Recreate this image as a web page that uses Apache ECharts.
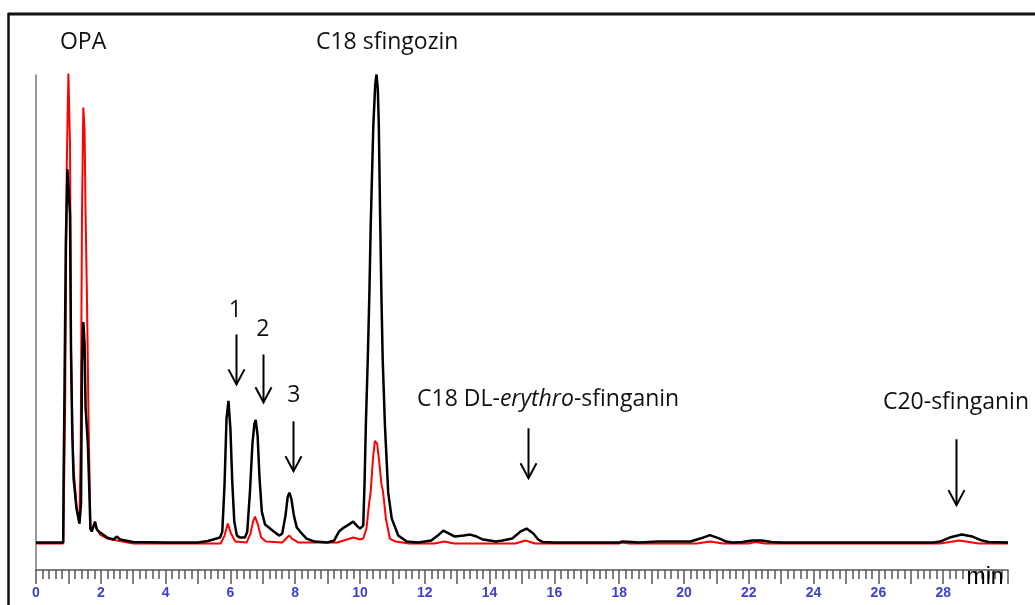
<!DOCTYPE html>
<html>
<head>
<meta charset="utf-8">
<script src="https://cdn.jsdelivr.net/npm/echarts@6/dist/echarts.min.js"></script>
<style>
html,body{margin:0;padding:0;background:#fff;}
#c{width:1035px;height:605px;}
</style>
</head>
<body>
<div id="c"></div>
<script>
// Retention time (min) and detector signal (arbitrary units) – black trace
var blackTime = [0,0.84,0.85,0.87,0.92,0.97,1.0,1.05,1.08,1.12,1.16,1.25,1.34,1.39,1.42,1.46,1.5,1.53,1.6,1.63,1.68,1.72,1.82,1.88,1.98,2.2,2.39,2.5,2.6,3.0,
  4.0,5.0,5.3,5.47,5.68,5.75,5.82,5.88,5.94,6.0,6.06,6.12,6.2,6.3,6.45,6.52,6.6,6.68,6.74,6.78,6.84,6.9,6.97,7.07,7.3,7.5,7.6,7.7,7.77,7.82,7.88,7.96,8.05,8.15,8.35,8.6,9.0,9.2,9.35,9.5,9.65,9.79,9.9,10.0,10.06,
  10.1,10.14,10.18,10.24,10.29,10.33,10.41,10.47,10.51,10.55,10.58,10.62,10.66,10.7,10.77,10.87,10.98,11.18,11.44,11.8,12.2,12.4,12.57,12.75,12.93,13.2,13.4,13.6,13.8,14.2,14.4,14.7,14.95,15.14,15.35,15.5,15.65,16.0,
  18.0,18.1,18.4,18.6,19.2,20.2,20.5,20.8,21.1,21.3,21.5,21.8,22.1,22.4,22.7,23.0,27.7,27.9,28.2,28.57,28.9,29.2,29.4,30.0];
var blackSignal = [1,1,60,120,300,375,375,330,195,110,65,35,20,40,181,222,200,136,100,70,15,12,22,14,11,6,4,7,4,1.5,
  1,1,2.5,4,6,12,60,125,143,115,60,22,8,6,6,12,50,100,120,124,108,65,32,19,13,8,10,28,47,51,45,28,16,12,5,2,1,3,12,16,19,22,18,15,15,
  18,60,118,185,251,318,418,460,470,455,420,330,250,185,118,51,25,8,2,1,3,8,13,10,7,8,9,7,4,2,3,5,12,15,10,4,1.5,1,
  1,2,1.5,1,2,2,5,8.5,5,2,1,1.5,3,3,1.5,1,1,2,6,9,7,3,1.5,1];

// Red trace
var redTime = [0,0.84,0.86,0.9,0.95,1.0,1.05,1.08,1.12,1.16,1.25,1.34,1.38,1.42,1.46,1.5,1.53,1.57,1.6,1.62,1.65,1.68,1.72,1.82,1.98,2.2,2.5,3.0,
  5.7,5.82,5.92,6.02,6.15,6.5,6.62,6.7,6.76,6.84,6.95,7.1,7.6,7.75,7.82,7.9,8.1,9.3,9.6,9.8,10.0,10.1,10.2,10.28,10.33,10.4,10.46,10.49,10.53,10.6,10.66,10.71,10.8,10.92,11.1,11.5,
  12.3,12.6,12.9,14.8,15.1,15.4,18.0,18.1,18.3,20.4,20.8,21.2,22.0,22.2,22.5,23.45,23.5,23.55,24.55,24.6,24.65,26.05,26.1,26.15,27.9,28.5,29.1,30.0];
var redSignal = [0,0,40,140,380,471,400,195,118,75,38,20,100,331,437,414,330,252,180,126,71,14,12,18,9,5,3,0,
  0,8,20,10,2,1,10,22,27,20,6,2,1,6,8,5,1,1,4,6,4,5,15,40,52,85,103,105,100,80,60,52,25,5,2,0,
  0,2,0,0,3,0,0,1,0,0,2,0,0,1.5,0,0,-2,0,0,-1.5,0,0,-2,0,0,3,0,0];

// Axis tick labels (min)
var tickLabels = [0,2,4,6,8,10,12,14,16,18,20,22,24,26,28];

// Peak annotations: label text, label anchor (time, signal)
var peakLabels = [
  {text:'OPA', t:0.74, v:502, align:'left'},
  {text:'C18 sfingozin', t:8.64, v:502, align:'left'},
  {text:'1', t:6.15, v:234, align:'center'},
  {text:'2', t:7.0, v:215, align:'center'},
  {text:'3', t:7.96, v:148, align:'center'},
  {rich:true, t:11.76, v:144, align:'left'},
  {text:'C20-sfinganin', t:26.14, v:141, align:'left'}
];
// Arrows: time, top signal, tip signal
var arrows = [
  {t:6.17, top:209.5, tip:159.5},
  {t:7.0, top:189.5, tip:141.5},
  {t:7.93, top:122.5, tip:72.5},
  {t:15.19, top:115.5, tip:65.5},
  {t:28.4, top:104.5, tip:38.5}
];

function pairs(ts, vs){ return ts.map(function(t,i){ return [t, vs[i]]; }); }

var chart = echarts.init(document.getElementById('c'), null, {renderer:'canvas'});
chart.setOption({
  animation:false,
  backgroundColor:'#ffffff',
  grid:{left:36, right:27, top:75, bottom:35},
  xAxis:{
    type:'value', min:0, max:30, interval:1,
    axisLine:{show:true, onZero:false, lineStyle:{color:'#555', width:1.5}},
    axisTick:{show:true, length:14, lineStyle:{color:'#555', width:1.5}},
    minorTick:{show:true, splitNumber:5, length:9, lineStyle:{color:'#555', width:1.5}},
    splitLine:{show:false},
    axisLabel:{
      margin:16, color:'#4040cc', fontSize:14, fontWeight:'bold', fontFamily:'Liberation Sans, Arial',
      formatter:function(v){ return tickLabels.indexOf(v) >= 0 ? String(v) : ''; }
    }
  },
  yAxis:{
    type:'value', min:-26.5, max:469.5,
    axisLine:{show:true, onZero:false, lineStyle:{color:'#777', width:1.5}},
    axisTick:{show:false}, axisLabel:{show:false}, splitLine:{show:false}
  },
  series:[
    {type:'line', name:'red', data:pairs(redTime, redSignal), showSymbol:false, symbol:'none', clip:false,
     lineStyle:{color:'#ff0000', width:2}, z:2},
    {type:'line', name:'black', data:pairs(blackTime, blackSignal), showSymbol:false, symbol:'none', clip:false,
     lineStyle:{color:'#000000', width:2.5}, z:3}
  ]
});

var g = [];
// frame
g.push({type:'line', shape:{x1:8, y1:14, x2:1035, y2:14}, style:{stroke:'#111', lineWidth:3}});
g.push({type:'line', shape:{x1:8.5, y1:13, x2:8.5, y2:605}, style:{stroke:'#111', lineWidth:2.5}});

peakLabels.forEach(function(L){
  var p = chart.convertToPixel({gridIndex:0}, [L.t, L.v]);
  var style;
  if (L.rich) {
    style = {text:'{n|C18 DL-}{i|erythro}{n|-sfinganin}', x:p[0], y:p[1], align:'left', verticalAlign:'middle',
      rich:{n:{fontFamily:'Open Sans', fontSize:23, fill:'#111'}, i:{fontFamily:'Open Sans', fontStyle:'italic', fontSize:23, fill:'#111'}}};
  } else {
    style = {text:L.text, x:p[0], y:p[1], align:L.align, verticalAlign:'middle', fontFamily:'Open Sans', fontSize:23, fill:'#111'};
  }
  g.push({type:'text', style:style, z:10});
});

arrows.forEach(function(A){
  var a = chart.convertToPixel({gridIndex:0}, [A.t, A.top]);
  var b = chart.convertToPixel({gridIndex:0}, [A.t, A.tip]);
  var x = Math.round(a[0]) + 0.5;
  g.push({type:'line', shape:{x1:x, y1:a[1], x2:x, y2:b[1]}, style:{stroke:'#000', lineWidth:2}, z:10});
  g.push({type:'polyline', shape:{points:[[x-8, b[1]-15],[x, b[1]],[x+8, b[1]-15]]}, style:{stroke:'#000', lineWidth:2, fill:null}, z:10});
});

// axis unit label
var pm = chart.convertToPixel({gridIndex:0}, [28.72, -26.5]);
g.push({type:'text', style:{text:'min', x:pm[0], y:pm[1]+8, align:'left', verticalAlign:'middle', fontFamily:'Liberation Sans', fontSize:23, fill:'#000'}, z:10});

chart.setOption({graphic:g});
</script>
</body>
</html>
